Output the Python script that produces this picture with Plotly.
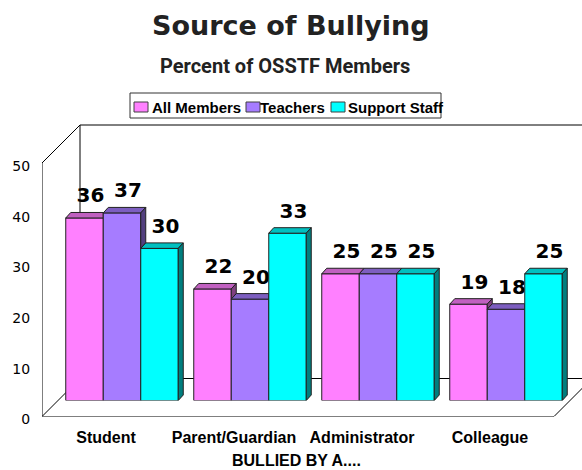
import plotly.graph_objects as go

# data
categories = ["Student", "Parent/Guardian", "Administrator", "Colleague"]
series_names = ["All Members", "Teachers", "Support Staff"]
all_members = [36, 22, 25, 19]
teachers = [37, 20, 25, 18]
support_staff = [30, 33, 25, 25]
y_ticks = [0, 10, 20, 30, 40, 50]

series = [all_members, teachers, support_staff]
front_colors = ["#FF80FF", "#A67CFF", "#00FFFF"]
top_colors = ["#C060C0", "#7D5EC0", "#00C0C0"]
side_colors = ["#804080", "#53407F", "#007F7F"]

# geometry of the fake 3d box (pixels)
W, H = 582, 470
CAT_PX = 128.0       # width of one category
UNIT_PX = 5.07       # one percent
FRONT_LEFT = 42      # left edge of the front plane
FRONT_ZERO = 416.5   # y pixel of value 0 on the front plane
BAR_SHIFT = 16       # bars sit this far into the box
WALL_DEPTH = 38      # depth of the whole box
BAR_DX, BAR_DY = 5, 5.5  # depth of one bar
BAR_W = 37.5 / CAT_PX
LABEL_FONT = dict(family="DejaVu Sans", size=20, color="black", weight="bold")
BOLD = dict(family="Liberation Sans", size=15, color="black", weight="bold")
CAT_FONT = dict(family="Liberation Sans", size=16, color="black", weight="bold")


def polys(pts_list):
    xs, ys = [], []
    for pts in pts_list:
        for px, py in pts:
            xs.append(px)
            ys.append(py)
        xs.append(pts[0][0])
        ys.append(pts[0][1])
        xs.append(None)
        ys.append(None)
    return xs, ys


fig = go.Figure()

ddx = BAR_DX / CAT_PX
ddy = BAR_DY / UNIT_PX
for j, vals in enumerate(series):
    xs = [i + (j - 1) * BAR_W for i in range(len(categories))]
    fig.add_trace(go.Bar(
        x=xs, y=vals, width=BAR_W, name=series_names[j],
        marker=dict(color=front_colors[j], line=dict(color="#202020", width=1)),
        xaxis="x2", yaxis="y2", zorder=10 * j, showlegend=False,
        hoverinfo="skip"))
    tops, sides = [], []
    for i, (c, h) in enumerate(zip(xs, vals)):
        xl, xr = c - BAR_W / 2, c + BAR_W / 2
        nxt = series[j + 1][i] if j < len(series) - 1 else 0
        if j < len(series) - 1 and nxt > h:
            tops.append([(xl, h), (xr, h), (xr, h + ddy), (xl + ddx, h + ddy)])
        else:
            tops.append([(xl, h), (xr, h), (xr + ddx, h + ddy), (xl + ddx, h + ddy)])
        if h > nxt:
            sides.append([(xr, nxt), (xr + ddx, nxt + ddy), (xr + ddx, h + ddy), (xr, h)])
    for pts, col, z in ((tops, top_colors[j], 1), (sides, side_colors[j], 2)):
        if not pts:
            continue
        px_, py_ = polys(pts)
        fig.add_trace(go.Scatter(
            x=px_, y=py_, mode="lines", fill="toself", fillcolor=col,
            line=dict(color="#202020", width=1), xaxis="x2", yaxis="y2",
            zorder=10 * j + z, showlegend=False, hoverinfo="skip"))
    fig.add_trace(go.Scatter(
        x=[c + 6 / CAT_PX for c in xs], y=[v + ddy + 5 / UNIT_PX for v in vals],
        mode="text", text=[str(v) for v in vals], textposition="top center",
        textfont=LABEL_FONT, xaxis="x2", yaxis="y2", zorder=10 * j + 3,
        showlegend=False, hoverinfo="skip", cliponaxis=False))

# frame of the 3d box, in front-plane units
dx = WALL_DEPTH / CAT_PX
dy = WALL_DEPTH / UNIT_PX
x0, x1, top = -0.5, len(categories) - 0.5, y_ticks[-1]
frame = [
    (x0, 0, x0, top), (x0, top, x0 + dx, top + dy),
    (x0 + dx, top + dy, x1 + dx, top + dy), (x0 + dx, dy, x0 + dx, top + dy),
    (x0 + dx, dy, x1 + dx, dy), (x0, 0, x0 + dx, dy),
    (x0, 0, x1, 0), (x1, 0, x1 + dx, dy), (x1 + dx, dy, x1 + dx, top + dy),
]
for a, b, c, d in frame:
    fig.add_shape(type="line", x0=a, y0=b, x1=c, y1=d, xref="x", yref="y",
                  line=dict(color="black", width=1), layer="below")

# legend drawn by hand to keep Excel's tight spacing
LEG = [(134, 150), (246, 258), (331, 346)]
fig.add_shape(type="rect", xref="paper", yref="paper",
              x0=130 / W, x1=441 / W, y0=1 - 118 / H, y1=1 - 93 / H,
              line=dict(color="#333333", width=1))
for j, (sx, tx) in enumerate(LEG):
    fig.add_shape(type="rect", xref="paper", yref="paper",
                  x0=sx / W, x1=(sx + 14) / W, y0=1 - 112 / H, y1=1 - 102 / H,
                  fillcolor=front_colors[j], line=dict(color="#404040", width=1))
    fig.add_annotation(text=series_names[j], x=tx / W, y=1 - 107.5 / H,
                       xref="paper", yref="paper", xanchor="left",
                       yanchor="middle", showarrow=False, font=BOLD)

fig.add_annotation(text="Source of Bullying", x=291 / W, y=1 - 26 / H,
                   xref="paper", yref="paper", showarrow=False,
                   xanchor="center", yanchor="middle",
                   font=dict(family="DejaVu Sans", size=27, color="#222222",
                             weight="bold"))
fig.add_annotation(text="Percent of OSSTF Members", x=285 / W, y=1 - 66 / H,
                   xref="paper", yref="paper", showarrow=False,
                   xanchor="center", yanchor="middle",
                   font=dict(family="Roboto", size=20, color="#222222", weight="bold"))
fig.add_annotation(text="BULLIED BY A....", x=296 / W, y=1 - 460 / H,
                   xref="paper", yref="paper", showarrow=False,
                   xanchor="center", yanchor="middle", font=CAT_FONT)

fig.update_layout(
    width=W, height=H, margin=dict(l=0, r=0, t=0, b=0),
    paper_bgcolor="white", plot_bgcolor="rgba(0,0,0,0)",
    barmode="overlay", showlegend=False,
    xaxis=dict(domain=[FRONT_LEFT / W, 1],
               range=[-0.5, -0.5 + (W - FRONT_LEFT) / CAT_PX],
               tickvals=list(range(len(categories))), ticktext=categories,
               tickfont=CAT_FONT, ticks="outside", ticklen=6,
               tickcolor="rgba(0,0,0,0)", showgrid=False, zeroline=False,
               showline=False, anchor="y", fixedrange=True, automargin=False),
    yaxis=dict(domain=[1 - FRONT_ZERO / H, 1],
               range=[0, FRONT_ZERO / UNIT_PX], tickvals=y_ticks,
               tickfont=dict(family="DejaVu Sans", size=14, color="black"),
               ticks="outside", ticklen=8, tickcolor="rgba(0,0,0,0)",
               ticklabelshift=3,
               showgrid=False, zeroline=False, showline=False, anchor="x",
               fixedrange=True, automargin=False),
    xaxis2=dict(domain=[(FRONT_LEFT + BAR_SHIFT) / W, 1],
                range=[-0.5, -0.5 + (W - FRONT_LEFT - BAR_SHIFT) / CAT_PX],
                visible=False, anchor="y2", fixedrange=True, automargin=False),
    yaxis2=dict(domain=[1 - (FRONT_ZERO - BAR_SHIFT) / H, 1],
                range=[0, (FRONT_ZERO - BAR_SHIFT) / UNIT_PX],
                visible=False, anchor="x2", fixedrange=True, automargin=False),
)

# the page's default body margin would push the figure 8px off the corner
fig.write_html("out.html", config={"displayModeBar": False},
               post_script="document.body.style.margin = '0';")
